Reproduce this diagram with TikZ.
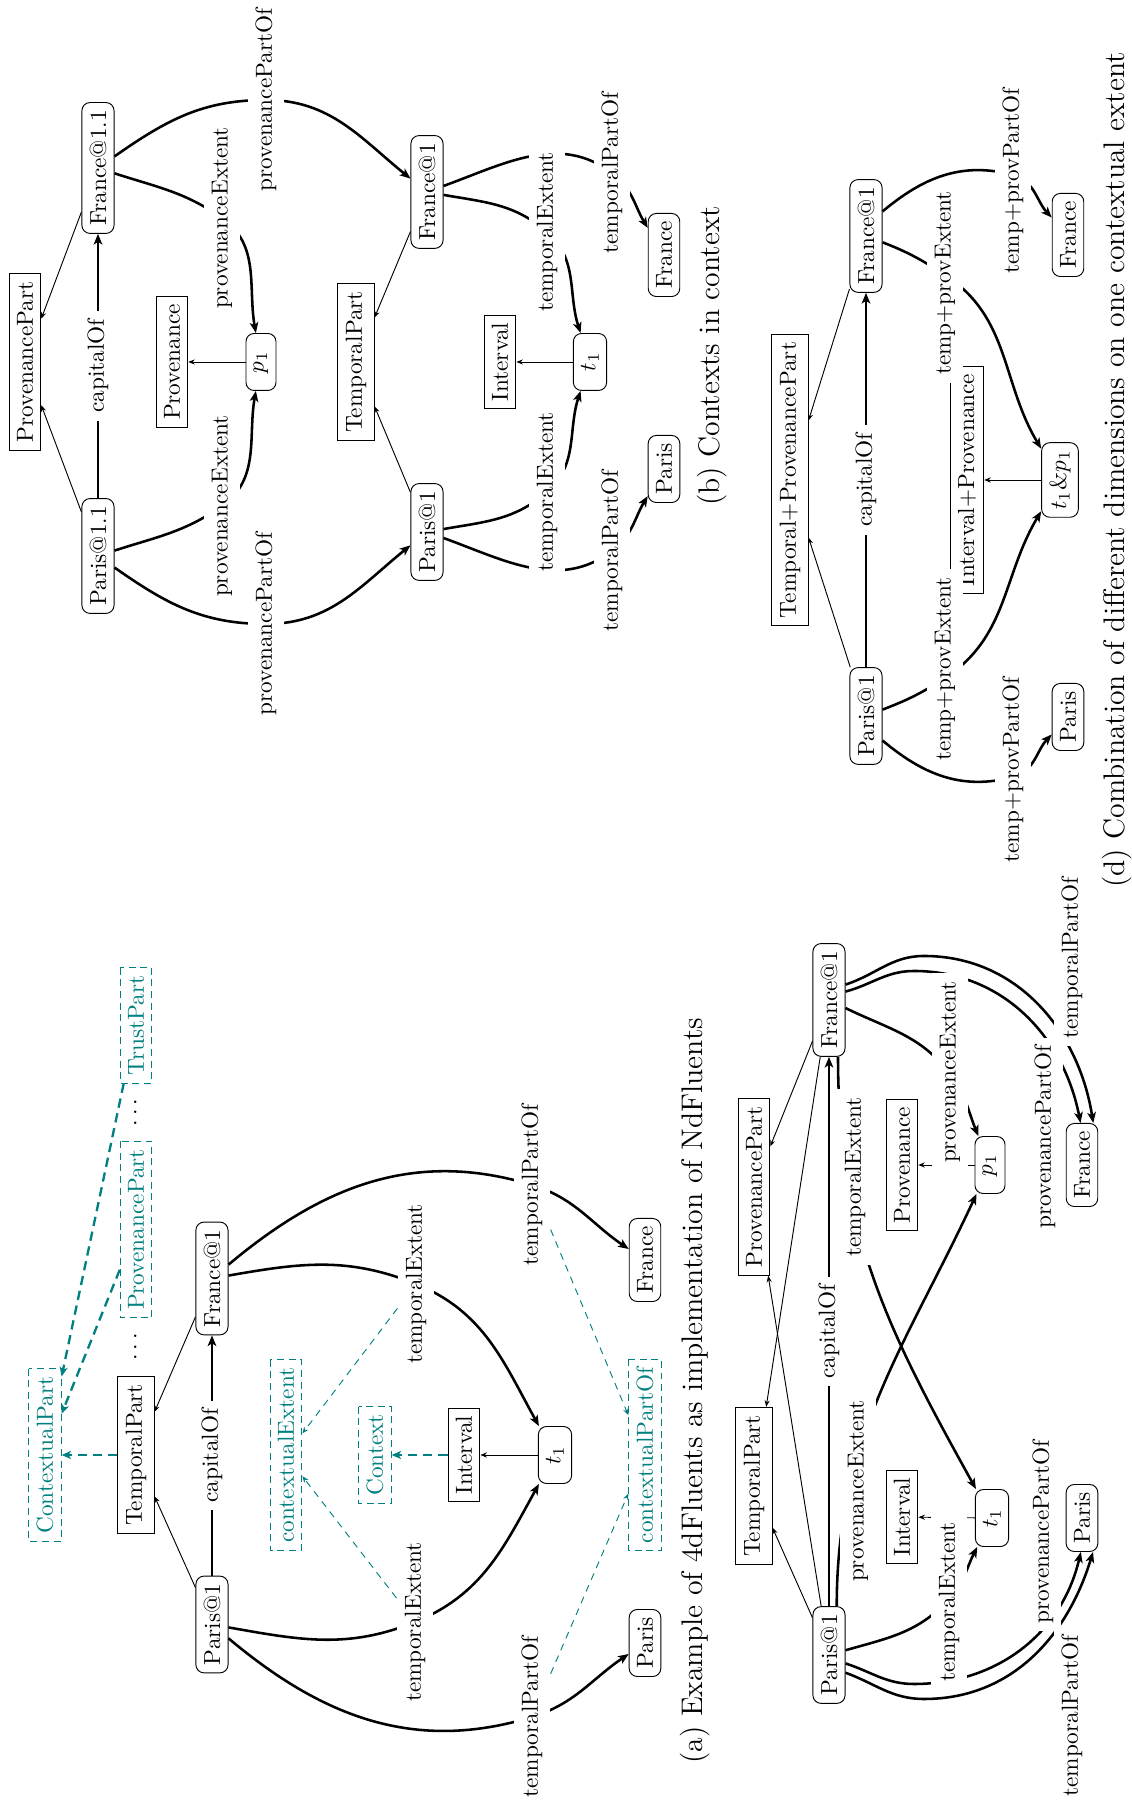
\documentclass[tikz,border=0pt]{standalone}
\usetikzlibrary{arrows.meta,calc}
\definecolor{ctxcol}{RGB}{0,128,128}
\begin{document}
\begin{tikzpicture}[x=0.43pt,y=0.43pt,
  every node/.style={font=\fontsize{10}{12}\selectfont},
  ent/.style={draw, rounded corners=3.5pt, inner sep=3.33pt},
  entm/.style={ent, minimum width=24.5pt},
  cls/.style={draw, inner sep=3.33pt},
  ctxbox/.style={draw=ctxcol, text=ctxcol, dash pattern=on 3pt off 2pt, inner sep=3.33pt},
  lab/.style={fill=white, inner sep=3.33pt},
  dotsn/.style={inner sep=1pt},
  captxt/.style={font=\fontsize{12.8}{15}\selectfont, inner sep=0pt},
  rel/.style={line width=1.1pt, -{Stealth[length=4.6pt,width=3.7pt,inset=1.2pt]}},
  thinarr/.style={line width=0.4pt, -{Stealth[length=2.8pt,width=2.2pt]}},
  ctxthick/.style={draw=ctxcol, line width=1pt, dash pattern=on 4pt off 2.5pt, -{Stealth[length=4pt,width=3.4pt,inset=1pt]}},
  ctxthin/.style={draw=ctxcol, line width=0.4pt, dash pattern=on 3pt off 2.5pt, -{Stealth[length=2.8pt,width=2.2pt]}},
]
\begin{scope}[rotate=90, transform shape]
\fill[white] (0,0) rectangle (1801,1132);
\useasboundingbox (0,0) rectangle (1801,1132);

% ================= (a)
\node[ent] (aP1) at (176.5,920) {Paris@1};
\node[ent] (aF1) at (522.5,920) {France@1};
\node[cls] (aTP) at (346,996) {TemporalPart};
\node[ctxbox] (aCP) at (346,1087) {ContextualPart};
\node[ctxbox] (aPP) at (571.5,996) {ProvenancePart};
\node[ctxbox] (aTrP) at (775.5,996) {TrustPart};
\node[dotsn] (aD1) at (454,996) {$\cdots$};
\node[dotsn] (aD2) at (688.5,996) {$\cdots$};
\node[ctxbox] (aCE) at (346,846) {contextualExtent};
\node[ctxbox] (aCtx) at (346,757) {Context};
\node[cls] (aInt) at (346,668) {Interval};
\node[entm] (at1) at (346,577) {$t_1$};
\node[ctxbox] (aCPO) at (346,487) {contextualPartOf};
\node[ent] (aPa) at (158,487) {Paris};
\node[ent] (aFr) at (541,487) {France};
\coordinate (ac1) at (179,717);
\coordinate (ac2) at (517,716);
\coordinate (ac3) at (84,600);
\coordinate (ac4) at (616,600);
\draw[thinarr] (aP1) -- (aTP);
\draw[thinarr] (aF1) -- (aTP);
\draw[thinarr] (at1) -- (aInt);
\draw[ctxthick] (aTP) -- (aCP);
\draw[ctxthick] (aPP) -- (aCP);
\draw[ctxthick] (aTrP) -- (aCP);
\draw[ctxthick] (aInt) -- (aCtx);
\draw[rel] (aP1) -- node[lab] (aLc) {capitalOf} (aF1);
\draw[rel] (aP1) to[out=-100,in=112] (ac1) to[out=-68,in=151] (at1);
\draw[rel] (aF1) to[out=-80,in=68] (ac2) to[out=-112,in=29] (at1);
\draw[rel] (aP1) to[out=-130,in=107] (ac3) to[out=-73,in=124] (aPa);
\draw[rel] (aF1) to[out=-50,in=73] (ac4) to[out=-107,in=56] (aFr);
\node[lab] (aL1) at (ac1) {temporalExtent};
\node[lab] (aL2) at (ac2) {temporalExtent};
\node[lab] (aL3) at (ac3) {temporalPartOf};
\node[lab] (aL4) at (ac4) {temporalPartOf};
\draw[ctxthin] (aL1) -- (aCE);
\draw[ctxthin] (aL2) -- (aCE);
\draw[ctxthin] (aL3) -- (aCPO);
\draw[ctxthin] (aL4) -- (aCPO);
\node[captxt] (aCap) at (410,437) {(a) Example of 4dFluents as implementation of NdFluents};

% ================= (b)
\node[ent] (bP11) at (1245,1034) {Paris@1.1};
\node[ent] (bF11) at (1633,1034) {France@1.1};
\node[cls] (bPP) at (1439,1107) {ProvenancePart};
\node[cls] (bProv) at (1439,960) {Provenance};
\node[entm] (bp1) at (1439,871) {$p_1$};
\node[cls] (bTP) at (1439,776) {TemporalPart};
\node[ent] (bP1) at (1269,705) {Paris@1};
\node[ent] (bF1) at (1609,705) {France@1};
\node[cls] (bInt) at (1439,632) {Interval};
\node[entm] (bt1) at (1439,542) {$t_1$};
\node[ent] (bPa) at (1332,468) {Paris};
\node[ent] (bFr) at (1546,468) {France};
\coordinate (bc1) at (1295,910);
\coordinate (bc2) at (1583,910);
\coordinate (bc3) at (1177,866);
\coordinate (bc4) at (1701,866);
\coordinate (bc5) at (1309,585);
\coordinate (bc6) at (1569,585);
\coordinate (bc7) at (1250,520);
\coordinate (bc8) at (1628,520);
\draw[thinarr] (bP11) -- (bPP);
\draw[thinarr] (bF11) -- (bPP);
\draw[thinarr] (bp1) -- (bProv);
\draw[thinarr] (bP1) -- (bTP);
\draw[thinarr] (bF1) -- (bTP);
\draw[thinarr] (bt1) -- (bInt);
\draw[rel] (bP11) -- node[lab] (bLc) {capitalOf} (bF11);
\draw[rel] (bP11) to[out=-72,in=125] (bc1) to[out=-55,in=170] (bp1);
\draw[rel] (bF11) to[out=-108,in=55] (bc2) to[out=-125,in=10] (bp1);
\draw[rel] (bP11) to[out=-125,in=90] (bc3) to[out=-90,in=129] (bP1);
\draw[rel] (bF11) to[out=-55,in=90] (bc4) to[out=-90,in=51] (bF1);
\draw[rel] (bP1) to[out=-80,in=131] (bc5) to[out=-49,in=162] (bt1);
\draw[rel] (bF1) to[out=-100,in=49] (bc6) to[out=-131,in=18] (bt1);
\draw[rel] (bP1) to[out=-110,in=127] (bc7) to[out=-53,in=149] (bPa);
\draw[rel] (bF1) to[out=-70,in=53] (bc8) to[out=-127,in=31] (bFr);
\node[lab] (bL1) at (bc1) {provenanceExtent};
\node[lab] (bL2) at (bc2) {provenanceExtent};
\node[lab] (bL3) at (bc3) {provenancePartOf};
\node[lab] (bL4) at (bc4) {provenancePartOf};
\node[lab] (bL5) at (bc5) {temporalExtent};
\node[lab] (bL6) at (bc6) {temporalExtent};
\node[lab] (bL7) at (bc7) {temporalPartOf};
\node[lab] (bL8) at (bc8) {temporalPartOf};
\node[captxt] (bCap) at (1445,420) {(b) Contexts in context};

% ================= (c)
\node[ent] (cP1) at (146,303) {Paris@1};
\node[ent] (cF1) at (801,303) {France@1};
\node[cls] (cTP) at (315,378) {TemporalPart};
\node[cls] (cPP) at (614,378) {ProvenancePart};
\node[cls] (cInt) at (284,230) {Interval};
\node[entm] (ct1) at (283,140) {$t_1$};
\node[cls] (cProv) at (636,230) {Provenance};
\node[entm] (cp1) at (636,142) {$p_1$};
\node[ent] (cPa) at (283,50) {Paris};
\node[ent] (cFr) at (636,50) {France};
\coordinate (cc1) at (727,182);
\coordinate (cc2) at (202,183);
\coordinate (cc3) at (845,208);
\coordinate (cc4) at (830,218);
\coordinate (cc5) at (117,218);
\coordinate (cc6) at (102,208);
\draw[thinarr] (cP1) -- (cTP);
\draw[thinarr] (cP1) -- (cPP);
\draw[thinarr] (cF1) -- (cPP);
\draw[thinarr] (cF1) -- (cTP);
\draw[thinarr] (ct1) -- (cInt);
\draw[thinarr] (cp1) -- (cProv);
\draw[rel] (cP1) -- node[lab] (cLc) {capitalOf} (cF1);
\draw[rel] (cF1.189) to[out=180,in=29] (ct1);
\draw[rel] (cP1.-9.5) to[out=0,in=155] (cp1);
\draw[rel] (cF1) to[out=-116,in=37] (cc1) to[out=-143,in=22] (cp1);
\draw[rel] (cP1) to[out=-74,in=138] (cc2) to[out=-42,in=153] (ct1);
\draw[rel] (cF1.-47) to[out=-72,in=90] (cc3) to[out=-90,in=9] (cFr.-15);
\draw[rel] (cF1.-63) to[out=-75,in=90] (cc4) to[out=-90,in=11] (cFr.2);
\draw[rel] (cP1.-117) to[out=-108,in=90] (cc5) to[out=-90,in=167] (cPa.178);
\draw[rel] (cP1.-137) to[out=-110,in=90] (cc6) to[out=-90,in=163] (cPa.-162);
\node[lab] (cL1) at (624,277) {temporalExtent};
\node[lab] (cL2) at (729,182) {provenanceExtent};
\node[lab] (cL3) at (664,87) {provenancePartOf};
\node[lab] (cL4) at (843,60) {temporalPartOf};
\node[lab] (cL5) at (310,274) {provenanceExtent};
\node[lab] (cL6) at (199,183) {temporalExtent};
\node[lab] (cL7) at (269,89) {provenancePartOf};
\node[lab] (cL8) at (85,60) {temporalPartOf};

% ================= (d)
\node[ent] (dP1) at (1085,266) {Paris@1};
\node[ent] (dF1) at (1565,266) {France@1};
\node[cls] (dTPP) at (1321,342) {Temporal+ProvenancePart};
\node[cls] (dIP) at (1321,165) {Interval+Provenance};
\node[ent] (dt1p1) at (1321,72) {$t_1$\&$p_1$};
\node[ent] (dPa) at (1084,64) {Paris};
\node[ent] (dFr) at (1566,64) {France};
\coordinate (dc1) at (1123,187);
\coordinate (dc2) at (1526,187);
\coordinate (dc3) at (1024,119);
\coordinate (dc4) at (1626,119);
\draw[thinarr] (dP1) -- (dTPP);
\draw[thinarr] (dF1) -- (dTPP);
\draw[thinarr] (dt1p1) -- (dIP);
\draw[rel] (dP1) -- node[lab] (dLc) {capitalOf} (dF1);
\draw[rel] (dP1) to[out=-69,in=123] (dc1) to[out=-57,in=149] (dt1p1);
\draw[rel] (dF1) to[out=-111,in=57] (dc2) to[out=-123,in=31] (dt1p1);
\draw[rel] (dP1.-146) to[out=-130,in=105] (dc3) to[out=-75,in=137] (dPa);
\draw[rel] (dF1.-34) to[out=-50,in=75] (dc4) to[out=-105,in=43] (dFr);
\node[lab] (dL1) at (1132,187) {temp+provExtent};
\node[lab] (dL2) at (1518,187) {temp+provExtent};
\node[lab] (dL3) at (1031,119) {temp+provPartOf};
\node[lab] (dL4) at (1620,119) {temp+provPartOf};
\node[captxt] (dCap) at (1331,15) {(d) Combination of different dimensions on one contextual extent};
\end{scope}
\end{tikzpicture}
\end{document}
